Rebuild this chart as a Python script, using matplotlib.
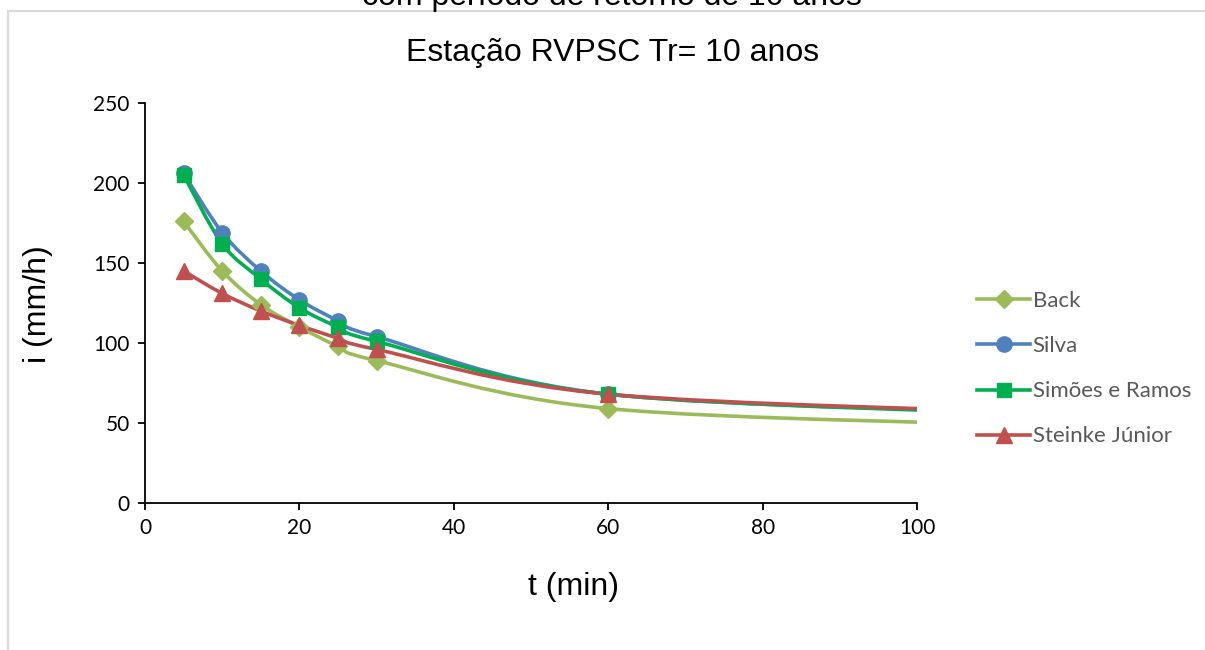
import numpy as np
import matplotlib
matplotlib.use("Agg")
import matplotlib.pyplot as plt
from matplotlib.path import Path
from matplotlib.patches import PathPatch, Rectangle
from matplotlib.lines import Line2D

# duração (min) e intensidades (mm/h)
t_min = [5, 10, 15, 20, 25, 30, 60, 120]
back = [176, 145, 124, 110, 98, 89, 59, 48]
silva = [206, 169, 145, 127, 114, 104, 68, 56]
simoes_ramos = [205, 162, 140, 122, 110, 101, 68, 55]
steinke = [145, 131, 120, 111, 103, 96, 68, 56]

series_names = ["Back", "Silva", "Simões e Ramos", "Steinke Júnior"]
series_vals = [back, silva, simoes_ramos, steinke]
colors = ["#9BBB59", "#4F81BD", "#00B050", "#C0504D"]
markers = ["D", "o", "s", "^"]
msizes = [9, 11, 10, 11]


def smooth_path(x, y):
    # curva suavizada estilo Excel (bezier cubica)
    p = np.column_stack([x, y]).astype(float)
    n = len(p)
    verts = [p[0]]
    codes = [Path.MOVETO]
    for i in range(n - 1):
        p0 = p[i - 1] if i > 0 else p[i]
        p3 = p[i + 2] if i + 2 < n else p[i + 1]
        c1 = p[i] + (p[i + 1] - p0) / 6
        c2 = p[i + 1] - (p3 - p[i]) / 6
        verts += [c1, c2, p[i + 1]]
        codes += [Path.CURVE4] * 3
    return Path(verts, codes)


fig = plt.figure(figsize=(12.05, 6.5), dpi=100)

# moldura cinza da area do grafico
fig.patches.append(Rectangle((8 / 1205, -0.1), 1.2, 1 - 11 / 650 + 0.1,
                             transform=fig.transFigure, fill=False,
                             edgecolor="#d9d9d9", linewidth=1.5))

ax = fig.add_axes([145 / 1205, 1 - 503 / 650, (917 - 145) / 1205, (503 - 103) / 650])

handles = []
for name, vals, c, m, ms in zip(series_names, series_vals, colors, markers, msizes):
    patch = PathPatch(smooth_path(t_min, vals), fill=False, edgecolor=c,
                      linewidth=2.6, capstyle="round", joinstyle="round")
    ax.add_patch(patch)
    ax.plot(t_min, vals, linestyle="none", marker=m, markersize=ms,
            color=c, markeredgecolor=c)
    handles.append(Line2D([], [], color=c, linewidth=2.6, marker=m,
                          markersize=ms, markeredgecolor=c))

ax.set_xlim(0, 100)
ax.set_ylim(0, 250)
ax.set_xticks(np.arange(0, 101, 20))
ax.set_yticks(np.arange(0, 251, 50))
ax.spines["top"].set_visible(False)
ax.spines["right"].set_visible(False)
for s in ["left", "bottom"]:
    ax.spines[s].set_linewidth(1.3)
ax.tick_params(direction="out", length=5, width=1.3, labelsize=15, pad=6)
for lab in ax.get_xticklabels() + ax.get_yticklabels():
    lab.set_family("Lato")

# rotulos dos eixos (posicao em pixels da figura)
fig.text(573 / 1205, 1 - 587 / 650, "t (min)", ha="center", va="center",
         fontsize=23, family="Liberation Sans")
fig.text(38 / 1205, 1 - 304 / 650, "i (mm/h)", ha="center", va="center",
         rotation=90, fontsize=23, family="Liberation Sans")

fig.text(0.508, 1 - 53 / 650, "Estação RVPSC Tr= 10 anos", ha="center",
         va="center", fontsize=23, family="Liberation Sans")
fig.text(0.508, 1 - 5 / 650, "com período de retorno de 10 anos", ha="center",
         va="baseline", fontsize=23, family="Liberation Sans")

leg = fig.legend(handles, series_names, loc="upper left",
                 bbox_to_anchor=(966 / 1205, 1 - 280 / 650), frameon=False,
                 prop={"family": "Lato", "size": 16}, handlelength=2.4,
                 handletextpad=0.1, labelspacing=1.13, borderpad=0)
for txt in leg.get_texts():
    txt.set_color("#595959")

fig.savefig("out.png", dpi=100)
